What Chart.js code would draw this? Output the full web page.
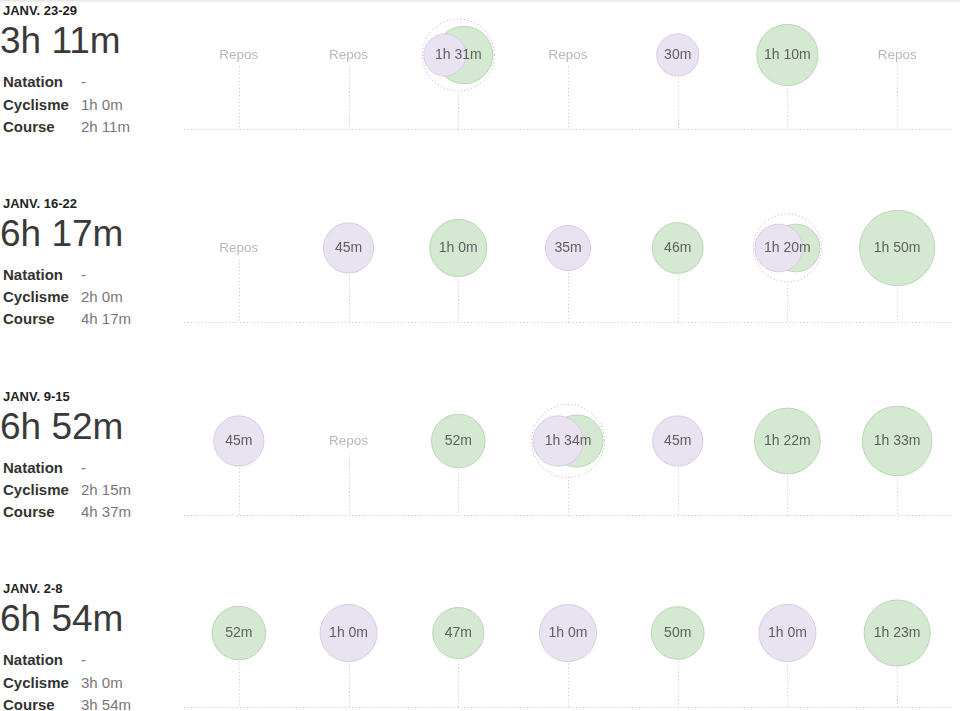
<!DOCTYPE html>
<html>
<head>
<meta charset="utf-8">
<script src="https://cdn.jsdelivr.net/npm/chart.js@4.4.1/dist/chart.umd.min.js"></script>
<style>
  html, body { margin: 0; padding: 0; background: #fff; }
  body { width: 960px; height: 711px; position: relative; overflow: hidden;
         font-family: "Liberation Sans", Arial, Helvetica, sans-serif; }
  .shade { position: absolute; left: 0; top: 0; width: 960px; height: 3px;
           background: linear-gradient(#e4e4e4, rgba(255,255,255,0)); }
  .week { position: absolute; left: 0; width: 960px; height: 190px; }
  .week .lbl { position: absolute; left: 3px; top: 4px; font-size: 13px; line-height: 13px;
               font-weight: bold; color: #222; white-space: nowrap; }
  .week .tot { position: absolute; left: 0px; top: 22px; font-size: 37px; line-height: 37px;
               color: #3a3a3a; white-space: nowrap; }
  .week .row { position: absolute; left: 3px; font-size: 15px; line-height: 15px; white-space: nowrap; }
  .week .row b { color: #333; }
  .week .row span { position: absolute; left: 78px; color: #777; }
  .week canvas { position: absolute; left: 184px; top: 0; }
</style>
</head>
<body>
<div class="shade"></div>
<div id="log"></div>
<script>
// weeks, newest first
const weekLabels = ['JANV. 23-29', 'JANV. 16-22', 'JANV. 9-15', 'JANV. 2-8'];
const weekTotals = ['3h 11m', '6h 17m', '6h 52m', '6h 54m'];
const natationTotals = ['-', '-', '-', '-'];
const cyclismeTotals = ['1h 0m', '2h 0m', '2h 15m', '3h 0m'];
const courseTotals = ['2h 11m', '4h 17m', '4h 37m', '3h 54m'];

// minutes per day (mon..sun), 0 = rest
const cyclismeMin = [
  [0, 0, 30, 0, 30, 0, 0],
  [0, 45, 0, 35, 0, 40, 0],
  [45, 0, 0, 45, 45, 0, 0],
  [0, 60, 0, 60, 0, 60, 0]
];
const courseMin = [
  [0, 0, 61, 0, 0, 70, 0],
  [0, 0, 60, 0, 46, 40, 110],
  [0, 0, 52, 49, 0, 82, 93],
  [52, 0, 47, 0, 50, 0, 83]
];
const restLabel = 'Repos';

const ROW_H = 192.8;
const FONT = '"Liberation Sans", Arial, Helvetica, sans-serif';

function radiusFor(min) { return min > 0 ? 3 + 3.3 * Math.sqrt(min) : 0; }
function fmt(min) {
  const h = Math.floor(min / 60), m = min % 60;
  return h ? h + 'h ' + m + 'm' : m + 'm';
}

const logPlugin = {
  id: 'trainingLog',
  afterDatasetsUpdate(chart) {
    const w = chart.options.plugins.trainingLog.week;
    const xs = chart.scales.x;
    const bike = chart.getDatasetMeta(0).data, run = chart.getDatasetMeta(1).data;
    for (let i = 0; i < 7; i++) {
      const b = cyclismeMin[w][i], r = courseMin[w][i];
      if (b > 0 && r > 0) {
        const cx = xs.getPixelForValue(i);
        const R = radiusFor(b + r);
        bike[i].x = cx - R + radiusFor(b);
        run[i].x = cx + R - radiusFor(r);
      }
    }
  },
  beforeDatasetsDraw(chart) {
    const w = chart.options.plugins.trainingLog.week;
    const { ctx, chartArea, scales: { x, y } } = chart;
    const base = Math.round(y.getPixelForValue(0)) + 0.5;
    const cy = y.getPixelForValue(1);
    ctx.save();
    ctx.strokeStyle = '#c4c4c4';
    ctx.lineWidth = 1;
    ctx.setLineDash([1, 2.5]);
    ctx.beginPath();
    ctx.moveTo(chartArea.left, base);
    ctx.lineTo(chartArea.right, base);
    ctx.stroke();
    for (let i = 0; i < 7; i++) {
      const b = cyclismeMin[w][i], r = courseMin[w][i];
      const cx = Math.round(x.getPixelForValue(i)) + 0.5;
      let top = cy + 12;
      if (b + r > 0) top = cy + radiusFor(b + r) + (b > 0 && r > 0 ? 4 : 2);
      ctx.beginPath();
      ctx.moveTo(cx, top);
      ctx.lineTo(cx, base);
      ctx.stroke();
    }
    ctx.restore();
  },
  afterDatasetsDraw(chart) {
    const w = chart.options.plugins.trainingLog.week;
    const { ctx, scales: { x, y } } = chart;
    const cy = y.getPixelForValue(1);
    ctx.save();
    ctx.textAlign = 'center';
    ctx.textBaseline = 'middle';
    for (let i = 0; i < 7; i++) {
      const b = cyclismeMin[w][i], r = courseMin[w][i];
      const cx = x.getPixelForValue(i);
      if (b > 0 && r > 0) {
        ctx.strokeStyle = '#a8a8a8';
        ctx.lineWidth = 1;
        ctx.setLineDash([1, 2.5]);
        ctx.beginPath();
        ctx.arc(cx, cy, radiusFor(b + r) + 1.5, 0, Math.PI * 2);
        ctx.stroke();
      }
      if (b + r > 0) {
        ctx.font = '14px ' + FONT;
        ctx.fillStyle = '#5f5f5f';
        ctx.fillText(fmt(b + r), cx, cy + 0.5);
      } else {
        ctx.font = '13.5px ' + FONT;
        ctx.fillStyle = '#b8b8b8';
        ctx.fillText(restLabel, cx, cy + 0.5);
      }
    }
    ctx.restore();
  }
};

const log = document.getElementById('log');
weekLabels.forEach((label, w) => {
  const div = document.createElement('div');
  div.className = 'week';
  div.style.top = (w * ROW_H) + 'px';
  div.innerHTML =
    '<div class="lbl">' + label + '</div>' +
    '<div class="tot">' + weekTotals[w] + '</div>' +
    '<div class="row" style="top:74px"><b>Natation</b><span>' + natationTotals[w] + '</span></div>' +
    '<div class="row" style="top:96.5px"><b>Cyclisme</b><span>' + cyclismeTotals[w] + '</span></div>' +
    '<div class="row" style="top:118.5px"><b>Course</b><span>' + courseTotals[w] + '</span></div>';
  const canvas = document.createElement('canvas');
  canvas.width = 768;
  canvas.height = 150;
  div.appendChild(canvas);
  log.appendChild(div);

  const days = [0, 1, 2, 3, 4, 5, 6];
  new Chart(canvas, {
    type: 'bubble',
    data: {
      datasets: [
        {
          label: 'Cyclisme',
          data: days.map(i => ({ x: i, y: 1, r: radiusFor(cyclismeMin[w][i]) })),
          backgroundColor: '#e8e2f1',
          borderColor: '#d7cde6',
          borderWidth: 1,
          clip: false
        },
        {
          label: 'Course',
          data: days.map(i => ({ x: i, y: 1, r: radiusFor(courseMin[w][i]) })),
          backgroundColor: '#d5e8d2',
          borderColor: '#b8d8b3',
          borderWidth: 1,
          clip: false
        }
      ]
    },
    options: {
      responsive: false,
      animation: false,
      events: [],
      layout: { autoPadding: false, padding: { top: 55, bottom: 20.7, left: 0, right: 0 } },
      scales: {
        x: { type: 'linear', min: -0.5, max: 6.5, display: false },
        y: { type: 'linear', min: 0, max: 1, display: false }
      },
      plugins: {
        legend: { display: false },
        tooltip: { enabled: false },
        trainingLog: { week: w }
      }
    },
    plugins: [logPlugin]
  });
});
</script>
</body>
</html>
